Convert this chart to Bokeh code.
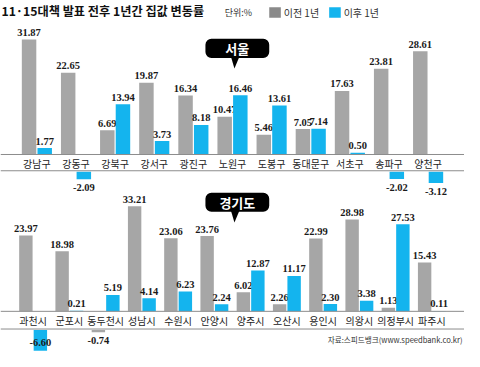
from bokeh.plotting import figure
from bokeh.models import (Range1d, FactorRange, Span, Label, BoxAnnotation,
                          PolyAnnotation, ColumnDataSource)
from bokeh.transform import dodge
from bokeh.core.properties import value
from bokeh.embed import file_html
from bokeh.resources import INLINE

# ---------------- data ----------------
title_text = "11·15대책 발표 전후 1년간 집값 변동률"
unit_text = "단위:%"
series_names = ["이전 1년", "이후 1년"]
panel_names = ["서울", "경기도"]
source_text = "자료:스피드뱅크(www.speedbank.co.kr)"

seoul_districts = ["강남구", "강동구", "강북구", "강서구", "광진구", "노원구",
                   "도봉구", "동대문구", "서초구", "송파구", "양천구"]
seoul_before = [31.87, 22.65, 6.69, 19.87, 16.34, 10.47, 5.46, 7.05, 17.63, 23.81, 28.61]
seoul_after = [1.77, -2.09, 13.94, 3.73, 8.18, 16.46, 13.61, 7.14, 0.50, -2.02, -3.12]

gg_cities = ["과천시", "군포시", "동두천시", "성남시", "수원시", "안양시",
             "양주시", "오산시", "용인시", "의왕시", "의정부시", "파주시"]
gg_before = [23.97, 18.98, -0.74, 33.21, 23.06, 23.76, 6.02, 2.26, 22.99, 28.98, 1.13, 15.43]
gg_after = [-6.60, 0.21, 5.19, 4.14, 6.23, 2.24, 12.87, 11.17, 2.30, 3.38, 27.53, 0.11]

# ---------------- style ----------------
GRAY = "#a6a6a6"
BLUE = "#14b4ee"
LEG_GRAY = "#8a8a8a"
LINE = "#8c8c8c"
KR = "Noto Sans CJK KR"
NUM = "Liberation Sans Narrow"

W, H = 464, 351
SX, SY = W / 480, H / 367


def sx(x):
    return x * SX


def sy(y):
    return H - y * SY


top_rng = Range1d(-54.64, 42.71)
bot_rng = Range1d(-12.69, 98.19)

p = figure(width=W, height=H,
           x_range=FactorRange(*seoul_districts, range_padding=0.43,
                               range_padding_units="absolute"),
           y_range=top_rng, output_backend="svg", toolbar_location=None,
           x_axis_location=None, y_axis_location=None, min_border=0,
           outline_line_color=None, background_fill_color="white")
p.xgrid.grid_line_color = None
p.ygrid.grid_line_color = None
p.extra_x_ranges = {"gg": FactorRange(*gg_cities, range_padding=0.40,
                                      range_padding_units="absolute")}
p.extra_y_ranges = {"gg": bot_rng}


def panel(cats, before, after, rname, rng, line_lo, bar_lo, cat_y, clamp_px):
    kw = {} if rname is None else dict(x_range_name=rname, y_range_name=rname)
    xr = p.x_range if rname is None else p.extra_x_ranges[rname]
    upx = H / (rng.end - rng.start)
    for loc in (0, -line_lo):
        sp = Span(location=loc, dimension="width", line_color=LINE, line_width=1)
        if rname is not None:
            sp.y_range_name = rname
        p.add_layout(sp)
    p.text(x="cat", y=cat_y, text="cat", source=ColumnDataSource(dict(cat=cats)),
           text_font=value(KR), text_font_size="10px", text_color="#222222",
           text_align="center", text_baseline="middle", **kw)
    for vals, off, color in ((before, -0.2, GRAY), (after, 0.2, BLUE)):
        top, bot, ly = [], [], []
        for v in vals:
            if v >= 0:
                bot.append(0)
                top.append(v)
                ly.append(v + 7 / upx)
            else:
                top.append(-bar_lo)
                bot.append(-bar_lo + v)
                ly.append(max(-bar_lo + v - 8.5 / upx, rng.start + clamp_px / upx))
        src = ColumnDataSource(dict(cat=cats, top=top, bottom=bot, ly=ly,
                                    txt=[f"{v:.2f}" for v in vals]))
        p.vbar(x=dodge("cat", off, range=xr), top="top", bottom="bottom",
               width=0.37, source=src, fill_color=color, line_color=None, **kw)
        p.text(x=dodge("cat", off, range=xr), y="ly", text="txt", source=src,
               text_font=value(NUM), text_font_size="10.5px", text_font_style="bold",
               text_color="#1a1a1a", text_align="center", text_baseline="middle", **kw)


panel(seoul_districts, seoul_before, seoul_after, None, top_rng,
      4.51, 4.77, -2.39, 0)
panel(gg_cities, gg_before, gg_after, "gg", bot_rng,
      5.59, 5.89, -3.02, 8.6)

# ---------------- title & legend ----------------
p.add_layout(Label(x=sx(1), y=sy(11.5), x_units="screen", y_units="screen",
                   text=title_text, text_font=KR, text_font_size="12.2px",
                   text_font_style="bold", text_color="#111111",
                   text_baseline="middle", text_align="left"))
p.add_layout(Label(x=sx(232), y=sy(12.5), x_units="screen", y_units="screen",
                   text=unit_text, text_font=KR, text_font_size="9px",
                   text_color="#333333", text_baseline="middle"))
for (l, r, txt_x), col, name in zip(((278, 290, 293), (340, 352, 355)),
                                    (LEG_GRAY, BLUE), series_names):
    p.add_layout(BoxAnnotation(left=sx(l), right=sx(r), top=sy(7), bottom=sy(18),
                               left_units="screen", right_units="screen",
                               top_units="screen", bottom_units="screen",
                               fill_color=col, fill_alpha=1, line_color=None))
    p.add_layout(Label(x=sx(txt_x), y=sy(12.5), x_units="screen", y_units="screen",
                       text=name, text_font=KR, text_font_size="10px",
                       text_color="#333333", text_baseline="middle"))

# ---------------- panel badges ----------------
for name, y_top in zip(panel_names, (40, 201)):
    p.add_layout(BoxAnnotation(left=sx(212), right=sx(278), top=sy(y_top),
                               bottom=sy(y_top + 20),
                               left_units="screen", right_units="screen",
                               top_units="screen", bottom_units="screen",
                               fill_color="black", fill_alpha=1, line_color=None,
                               border_radius=6))
    p.add_layout(PolyAnnotation(xs=[sx(238.5), sx(247), sx(242)],
                                ys=[sy(y_top + 19), sy(y_top + 19), sy(y_top + 31)],
                                xs_units="screen", ys_units="screen",
                                fill_color="black", fill_alpha=1, line_color=None))
    p.add_layout(Label(x=sx(245), y=sy(y_top + 10), x_units="screen", y_units="screen",
                       text=name, text_font=KR, text_font_size="13px",
                       text_font_style="bold", text_color="white",
                       text_align="center", text_baseline="middle"))

p.add_layout(Label(x=sx(478), y=sy(354), x_units="screen", y_units="screen",
                   text=source_text, text_font=KR, text_font_size="7.6px",
                   text_color="#333333", text_align="right", text_baseline="middle"))

open("out.html", "w").write(file_html(p, INLINE))
